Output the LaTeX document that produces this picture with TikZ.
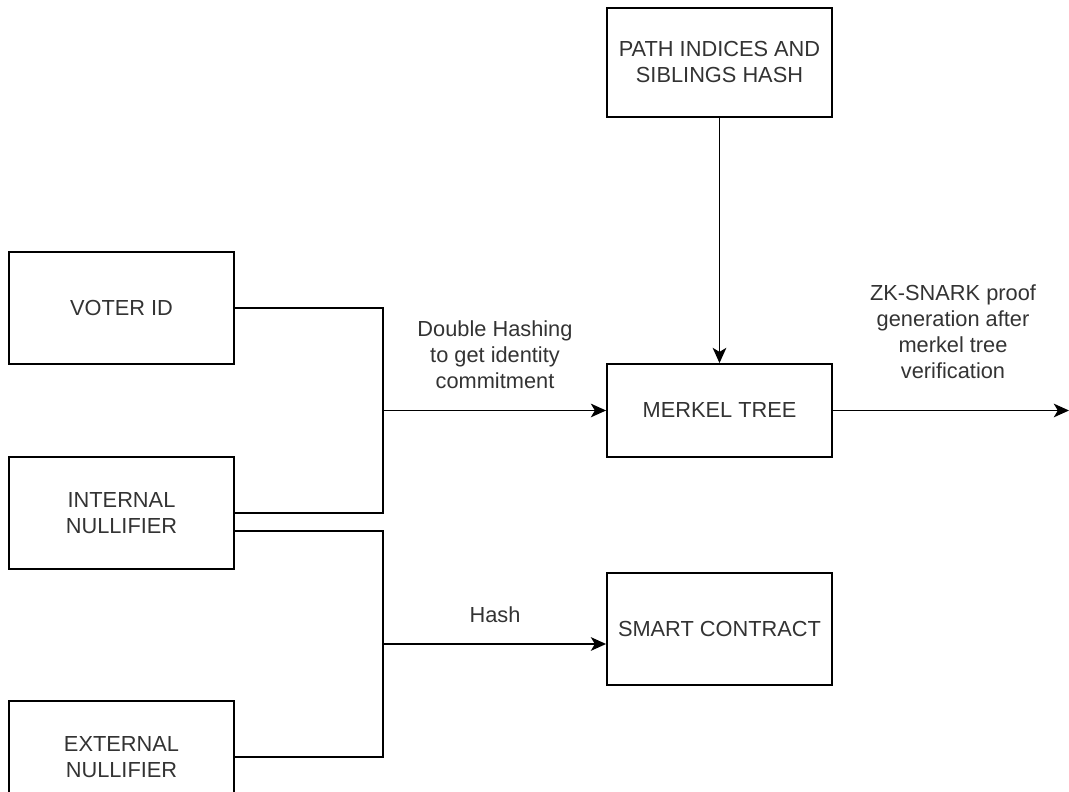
\documentclass[tikz,border=0pt]{standalone}
\usepackage{fontspec}
\setmainfont{Liberation Sans}
\usepackage{tikz}
\usetikzlibrary{arrows.meta}

\begin{document}
\begin{tikzpicture}[box_node/.style={rectangle,draw,line width=1.3pt,minimum width=5.625cm,minimum height=2.8cm,inner sep=0pt,align=center,text=black!80,font=\fontsize{15.5}{18.5}\selectfont},
    label_node/.style={align=center,text=black!80,inner sep=0pt,font=\fontsize{15.5}{18.5}\selectfont},
    edge_line/.style={line width=1.3pt},
    edge_arrow/.style={line width=1.3pt,-{Stealth[length=0.38cm,width=0.34cm,inset=0.1cm]}}]

    \useasboundingbox (0,0) rectangle (26.725,19.8);

    \node[box_node] (voter) at (3.0375, 12.1) {VOTER ID};
    \node[box_node] (internal) at (3.0375, 6.975) {INTERNAL\\NULLIFIER};
    \node[box_node] (external) at (3.0375, 0.875) {EXTERNAL\\NULLIFIER};
    \node[box_node, minimum height=2.725cm] (path) at (17.9875, 18.2375) {PATH INDICES AND\\SIBLINGS HASH};
    \node[box_node, minimum height=2.325cm] (merkel) at (17.9875, 9.5375) {MERKEL TREE};
    \node[box_node] (smart) at (17.9875, 4.075) {SMART CONTRACT};

    \coordinate (hashjoin) at (9.575, 9.5375);
    \coordinate (nulljoin) at (9.575, 3.7);
    \coordinate (out) at (26.725, 9.5375);

    \draw[edge_line] (voter.east) -| (hashjoin) |- (internal.east);
    \draw[edge_line] ([yshift=-0.45cm]internal.east) -| (nulljoin) |- (external.east);
    \draw[edge_arrow] (hashjoin) -- (merkel.west);
    \draw[edge_arrow] (nulljoin) -- (nulljoin -| smart.west);
    \draw[edge_arrow] (path) -- (merkel);
    \draw[edge_arrow] (merkel.east) -- (out);

    \node[label_node] (double) at (12.375, 10.9375) {Double Hashing\\to get identity\\commitment};
    \node[label_node] (hash) at (12.375, 4.425) {Hash};
    \node[label_node] (proof) at (23.825, 11.5) {ZK-SNARK proof\\generation after\\merkel tree\\verification};

\end{tikzpicture}
\end{document}
